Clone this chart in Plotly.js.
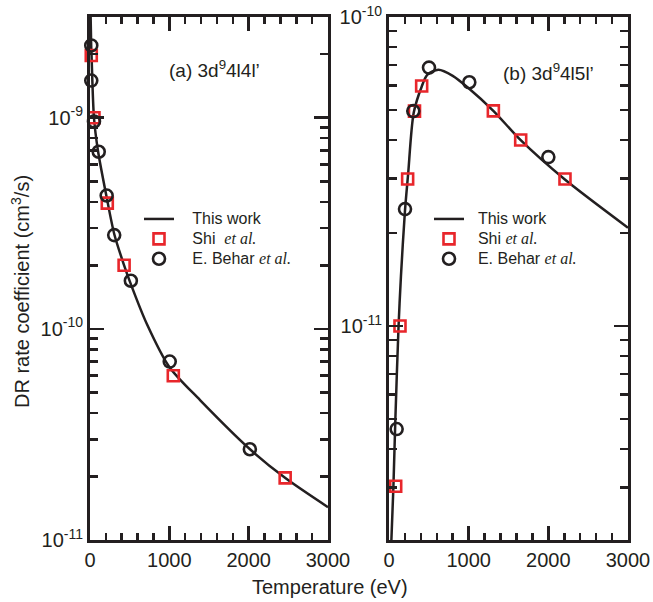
<!DOCTYPE html>
<html>
<head>
<meta charset="utf-8">
<script src="https://cdn.plot.ly/plotly-3.0.1.min.js"></script>
<style>html,body{margin:0;padding:0;background:#fff;}#chart{width:653px;height:602px;}</style>
</head>
<body>
<div id="chart"></div>
<script>
// ---- Panel (a) 3d9 4l4l' ----
const tA_curve = [8, 15, 20, 50, 100, 210, 307, 430, 517, 714, 1000, 1387, 2017, 2458, 3000];
const vA_curve = [3.0e-9, 2.2e-9, 1.95e-9, 1.0e-9, 7.0e-10, 4.2e-10, 2.8e-10, 2.0e-10, 1.62e-10, 1.06e-10, 6.6e-11, 4.6e-11, 2.69e-11, 1.97e-11, 1.43e-11];
const tA_shi = [16, 50, 218, 430, 1050, 2460];
const vA_shi = [1.97e-9, 1.0e-9, 3.94e-10, 2.0e-10, 6.0e-11, 1.97e-11];
const tA_behar = [16, 16, 50, 110, 210, 305, 515, 1005, 2015];
const vA_behar = [2.2e-9, 1.5e-9, 9.6e-10, 6.9e-10, 4.28e-10, 2.78e-10, 1.69e-10, 7.0e-11, 2.69e-11];

// ---- Panel (b) 3d9 4l5l' ----
const tB_curve = [29, 55, 80, 120, 150, 200, 240, 310, 410, 480, 620, 800, 1000, 1310, 1650, 2200, 3000];
const vB_curve = [2.0e-12, 3.0e-12, 5.0e-12, 1.0e-11, 1.45e-11, 2.35e-11, 3.1e-11, 4.9e-11, 5.95e-11, 6.5e-11, 6.75e-11, 6.45e-11, 5.88e-11, 4.97e-11, 4.0e-11, 2.99e-11, 2.08e-11];
const tB_shi = [84, 138, 234, 320, 410, 1310, 1653, 2209];
const vB_shi = [3.03e-12, 1.0e-11, 2.99e-11, 4.96e-11, 5.98e-11, 4.97e-11, 4.0e-11, 2.99e-11];
const tB_behar = [96, 201, 305, 502, 1008, 2000];
const vB_behar = [4.64e-12, 2.39e-11, 4.96e-11, 6.86e-11, 6.15e-11, 3.52e-11];

// ---- labels ----
const xTickVals = [0, 1000, 2000, 3000];
const yA_major = [1e-11, 1e-10, 1e-9];
const yA_majorText = ['10<sup>-11</sup>', '10<sup>-10</sup>', '10<sup>-9</sup>'];
const yA_minor = [2e-11,3e-11,4e-11,5e-11,6e-11,7e-11,8e-11,9e-11,2e-10,3e-10,4e-10,5e-10,6e-10,7e-10,8e-10,9e-10,2e-9,3e-9];
const yB_major = [1e-11, 1e-10];
const yB_majorText = ['10<sup>-11</sup>', '10<sup>-10</sup>'];
const yB_minor = [2e-12,3e-12,4e-12,5e-12,6e-12,7e-12,8e-12,9e-12,2e-11,3e-11,4e-11,5e-11,6e-11,7e-11,8e-11,9e-11];
const SERIF = '<span style="font-family:\'Liberation Serif\',serif"><i>et al.</i></span>';
const big = (s, pad) => '<span style="font-size:16px">' + pad + s + '</span>';
const PADA = '\u00a0\u00a0\u00a0', PADB = '\u00a0\u00a0';
const panelA = '(a) 3d<sup>9</sup>4l4l\u2019';
const panelB = '(b) 3d<sup>9</sup>4l5l\u2019';

const K = '#231f20', RED = '#e8262b';
const W = 653, H = 602;

function traces(t, v, ts, vs, tb, vb, xa, ya, lg, pad, shiGap) {
  return [
    {x: t, y: v, xaxis: xa, yaxis: ya, mode: 'lines', line: {color: K, width: 2.5, shape: 'spline', smoothing: 0.8}, name: big('This work', pad), legend: lg},
    {x: ts, y: vs, xaxis: xa, yaxis: ya, mode: 'markers', cliponaxis: false, marker: {symbol: 'square-open', size: 11, color: RED, line: {width: 2.6, color: RED}}, name: big('Shi' + shiGap + SERIF, pad), legend: lg},
    {x: tb, y: vb, xaxis: xa, yaxis: ya, mode: 'markers', cliponaxis: false, marker: {symbol: 'circle-open', size: 12, color: K, line: {width: 2.6, color: K}}, name: big('E. Behar ' + SERIF, pad), legend: lg}
  ];
}

const data = traces(tA_curve, vA_curve, tA_shi, vA_shi, tA_behar, vA_behar, 'x', 'y', 'legend', PADA, '\u00a0\u00a0')
  .concat(traces(tB_curve, vB_curve, tB_shi, vB_shi, tB_behar, vB_behar, 'x2', 'y2', 'legend2', PADB, ' '));

function xax(dom, anchor) {
  return {domain: dom, anchor: anchor, range: [0, 3000], tickmode: 'array', tickvals: xTickVals,
    ticks: 'inside', ticklen: 14, tickwidth: 2.5, tickcolor: K,
    minor: {dtick: 200, tick0: 0, ticks: 'inside', ticklen: 7, tickwidth: 2.5, tickcolor: K, showgrid: false},
    showline: true, linewidth: 3, linecolor: K, mirror: 'ticks', showgrid: false, zeroline: false,
    tickfont: {size: 20, color: K}};
}
function yax(dom, anchor, range, mj, mjt, mn) {
  return {domain: dom, anchor: anchor, type: 'log', range: range, tickmode: 'array', tickvals: mj, ticktext: mjt,
    ticks: 'inside', ticklen: 14, tickwidth: 2.5, tickcolor: K,
    minor: {tickmode: 'array', tickvals: mn, ticks: 'inside', ticklen: 8, tickwidth: 2.5, tickcolor: K, showgrid: false},
    showline: true, linewidth: 3, linecolor: K, mirror: 'ticks', showgrid: false, zeroline: false,
    tickfont: {size: 20, color: K}};
}
const ydom = [1 - 540 / H, 1 - 17 / H];
const legendBase = {font: {size: 13, color: K}, bgcolor: 'rgba(0,0,0,0)', borderwidth: 0, xanchor: 'left', yanchor: 'top', tracegroupgap: 0, itemwidth: 30};

const layout = {
  width: W, height: H, margin: {l: 0, r: 0, t: 0, b: 0},
  paper_bgcolor: '#fff', plot_bgcolor: '#fff',
  font: {family: '"Liberation Sans", Arial, sans-serif', color: K},
  showlegend: true,
  xaxis: xax([90 / W, 328 / W], 'y'),
  yaxis: yax(ydom, 'x', [-11, Math.log10(3e-9)], yA_major, yA_majorText, yA_minor),
  xaxis2: xax([389 / W, 628 / W], 'y2'),
  yaxis2: yax(ydom, 'x2', [Math.log10(2.03e-12), -10], yB_major, yB_majorText, yB_minor),
  legend: Object.assign({x: 139 / W, y: 1 - 204 / H}, legendBase),
  legend2: Object.assign({x: 429 / W, y: 1 - 204 / H}, legendBase),
  annotations: [
    {text: 'Temperature (eV)', xref: 'paper', yref: 'paper', x: 330 / W, y: 1 - 587 / H, xanchor: 'center', yanchor: 'middle', showarrow: false, font: {size: 20, color: K}},
    {text: 'DR rate coefficient (cm<sup>3</sup>/s)', xref: 'paper', yref: 'paper', x: 20 / W, y: 1 - 292 / H, xanchor: 'center', yanchor: 'middle', textangle: -90, showarrow: false, font: {size: 20, color: K}},
    {text: panelA, xref: 'paper', yref: 'paper', x: 167 / W, y: 1 - 69 / H, xanchor: 'left', yanchor: 'middle', showarrow: false, font: {size: 19, color: K}},
    {text: panelB, xref: 'paper', yref: 'paper', x: 501 / W, y: 1 - 72 / H, xanchor: 'left', yanchor: 'middle', showarrow: false, font: {size: 19, color: K}}
  ]
};

Plotly.newPlot('chart', data, layout, {displayModeBar: false, staticPlot: true});
</script>
</body>
</html>
